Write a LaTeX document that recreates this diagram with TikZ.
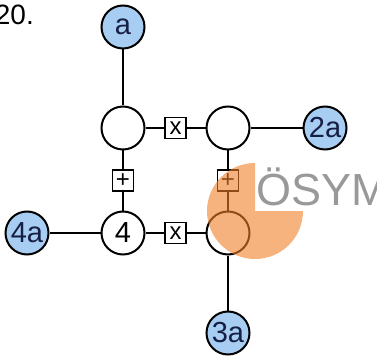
\documentclass[tikz,border=0pt]{standalone}
\usepackage{fontspec}
\setmainfont{Liberation Sans}
\usepackage{tikz}
\usetikzlibrary{positioning,calc}
\definecolor{leafblue}{RGB}{168,205,242}
\definecolor{leafink}{RGB}{22,30,68}
\definecolor{wmorange}{RGB}{240,128,40}
\definecolor{wmgray}{RGB}{135,135,135}
\newcommand{\nodefont}{\fontsize{29}{32}\selectfont}

\begin{document}
\begin{tikzpicture}[
  x=1pt,y=1pt,
  hub/.style={circle,draw=black,line width=2pt,fill=white,minimum size=43pt,
              inner sep=0pt,font=\nodefont},
  leaf/.style={hub,fill=leafblue,text=leafink},
  sign/.style={rectangle,draw=black,line width=1.3pt,fill=white,minimum size=21pt,
               inner sep=0pt,font=\fontsize{24}{26}\selectfont},
  link/.style={draw=black,line width=2pt}
]
\clip (0,0) rectangle (377,-358);
\node[anchor=base east,inner sep=0pt,font=\fontsize{28}{30}\selectfont] (num) at (34,-25) {20.};
\node[hub] (tl) at (123,-128) {};
\node[hub] (tr) at (228,-128) {};
\node[hub] (four) at (123,-233) {4};
\node[hub] (br) at (228,-233) {};
\node[leaf] (a) at (123,-27) {a};
\node[leaf] (twoa) at (325,-128) {2a};
\node[leaf] (foura) at (27,-233) {4a};
\node[leaf] (threea) at (228,-333) {3a};
\draw[link] (a) -- (tl);
\draw[link] (tr) -- (twoa);
\draw[link] (foura) -- (four);
\draw[link] (br) -- (threea);
\draw[link] (tl) -- node[sign] (mul1) {x} (tr);
\draw[link] (four) -- node[sign] (mul2) {x} (br);
\draw[link] (tl) -- node[sign] (add1) {+} (four);
\draw[link] (tr) -- node[sign] (add2) {+} (br);
% watermark
\fill[wmorange,opacity=.6] (255,-211) -- ++(90:48) arc[start angle=90,end angle=360,radius=48] -- cycle;
\node[anchor=base west,inner sep=0pt,text=wmgray,opacity=.85,font=\fontsize{45}{48}\selectfont] (logo) at (256,-205) {ÖSYM};
\end{tikzpicture}
\end{document}
